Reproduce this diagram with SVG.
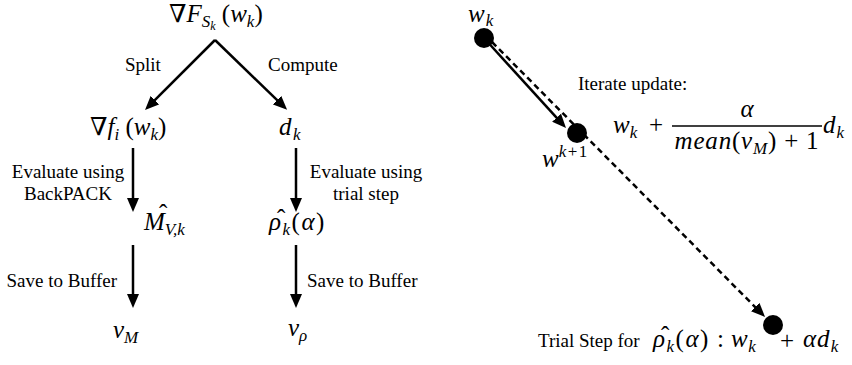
<svg xmlns="http://www.w3.org/2000/svg" width="852" height="365" viewBox="0 0 852 365" font-family="Liberation Serif, DejaVu Serif, serif">
<style>
.t{font-size:19px}
.m{font-size:25px}
.i{font-style:italic}
.s{font-size:17px}
.ss{font-size:12px}
.ln{stroke:#000;stroke-width:2.5;fill:none}
.dash{stroke:#000;stroke-width:2.5;fill:none;stroke-dasharray:6 4}
.dot{fill:#000}
</style>
<defs>
<marker id="ah" markerUnits="userSpaceOnUse" markerWidth="14" markerHeight="12" refX="3" refY="6" orient="auto">
<path d="M0,0 L14,6 L0,12 z" fill="#000"/>
</marker>
</defs>
<rect width="852" height="365" fill="#fff"/>

<g id="connectors">
<line class="ln" x1="215" y1="40" x2="152.8" y2="102.2" marker-end="url(#ah)"/>
<line class="ln" x1="215" y1="40" x2="279.2" y2="102.2" marker-end="url(#ah)"/>
<line class="ln" x1="133" y1="148" x2="133" y2="201" marker-end="url(#ah)"/>
<line class="ln" x1="296" y1="148" x2="296" y2="201" marker-end="url(#ah)"/>
<line class="ln" x1="133" y1="245" x2="133" y2="297" marker-end="url(#ah)"/>
<line class="ln" x1="296" y1="245" x2="296" y2="297" marker-end="url(#ah)"/>
<line class="ln" x1="484" y1="38" x2="558.6" y2="119.9" marker-end="url(#ah)"/>
<line class="dash" x1="492" y1="42" x2="757.3" y2="309.2" marker-end="url(#ah)"/>
<text class="t" x="125" y="71">Split</text>
<text class="t" x="268" y="71">Compute</text>
<text class="t" x="68" y="178" text-anchor="middle" font-size="20">Evaluate using</text>
<text class="t" x="68" y="200" text-anchor="middle" font-size="20">BackPACK</text>
<text class="t" x="366" y="178" text-anchor="middle" font-size="20">Evaluate using</text>
<text class="t" x="366" y="200" text-anchor="middle" font-size="20">trial step</text>
<text class="t" x="117" y="287" text-anchor="end" font-size="18">Save to Buffer</text>
<text class="t" x="307" y="287" font-size="18">Save to Buffer</text>
</g>

<g id="node-grad-F">
<text class="m" x="169" y="22">∇<tspan class="i">F</tspan><tspan class="i s" dy="5">S</tspan><tspan class="i ss" dy="3">k</tspan><tspan dy="-8"> (</tspan><tspan class="i">w</tspan><tspan class="i s" dy="5">k</tspan><tspan dy="-5">)</tspan></text>
</g>

<g id="node-grad-fi">
<text class="m" x="90" y="135">∇<tspan class="i">f</tspan><tspan class="i s" dy="5">i</tspan><tspan dy="-5"> (</tspan><tspan class="i">w</tspan><tspan class="i s" dy="5">k</tspan><tspan dy="-5">)</tspan></text>
</g>

<g id="node-dk">
<text class="m" x="279" y="135" letter-spacing="1.5"><tspan class="i">d</tspan><tspan class="i s" dy="5">k</tspan></text>
</g>

<g id="node-Mhat">
<text class="m i" x="144" y="230">M<tspan class="s" dy="5">V,k</tspan><tspan x="159" y="222" font-style="normal">ˆ</tspan></text>
</g>

<g id="node-rhohat">
<text class="m" x="269" y="230" letter-spacing="1.5"><tspan class="i">ρ</tspan><tspan class="i s" dy="5">k</tspan><tspan dy="-5">(</tspan><tspan class="i">α</tspan>)<tspan x="277" y="227">ˆ</tspan></text>
</g>

<g id="node-vM">
<text class="m" x="113" y="338"><tspan class="i">v</tspan><tspan class="i s" dy="5">M</tspan></text>
</g>

<g id="node-vrho">
<text class="m" x="288" y="336"><tspan class="i">v</tspan><tspan class="i s" dy="5">ρ</tspan></text>
</g>

<g id="node-wk">
<circle class="dot" cx="484" cy="38" r="10"/>
<text class="m" x="468" y="22" letter-spacing="1"><tspan class="i">w</tspan><tspan class="i s" dy="4">k</tspan></text>
</g>

<g id="node-wk1">
<circle class="dot" cx="577" cy="133" r="10"/>
<text class="m" x="542" y="167"><tspan class="i">w</tspan><tspan class="s" dy="-10" letter-spacing="1.5"><tspan class="i">k</tspan>+1</tspan></text>
</g>

<g id="node-trial">
<circle class="dot" cx="773" cy="325" r="10"/>
<text class="t" x="538" y="347" font-size="20">Trial Step for</text>
<text class="m" x="653" y="347" letter-spacing="1.5"><tspan class="i">ρ</tspan><tspan class="i s" dy="5">k</tspan><tspan dy="-5">(</tspan><tspan class="i">α</tspan>)<tspan x="661" y="344">ˆ</tspan></text>
<text class="m" x="717" y="347">:</text>
<text class="m" x="731" y="347" font-size="26" letter-spacing="0.5"><tspan class="i">w</tspan><tspan class="i s" dy="5">k</tspan></text>
<text class="m" x="787" y="349" text-anchor="middle" font-size="26">+</text>
<text class="m" x="803" y="347" font-size="26" letter-spacing="1"><tspan class="i">αd</tspan><tspan class="i s" dy="5">k</tspan></text>
</g>

<g id="node-update">
<text class="t" x="578" y="90" font-size="19.5">Iterate update:</text>
<text class="m" x="613" y="133"><tspan class="i">w</tspan><tspan class="i s" dy="5">k</tspan></text>
<text class="m" x="656" y="133" text-anchor="middle">+</text>
<line x1="672" y1="126" x2="822" y2="126" stroke="#000" stroke-width="1.3"/>
<text class="m i" x="747" y="117" text-anchor="middle">α</text>
<text class="m" x="747" y="149" text-anchor="middle" letter-spacing="0.8"><tspan class="i">mean</tspan>(<tspan class="i">v</tspan><tspan class="i s" dy="5">M</tspan><tspan dy="-5">) + 1</tspan></text>
<text class="m" x="823" y="133" letter-spacing="1"><tspan class="i">d</tspan><tspan class="i s" dy="5">k</tspan></text>
</g>
</svg>
